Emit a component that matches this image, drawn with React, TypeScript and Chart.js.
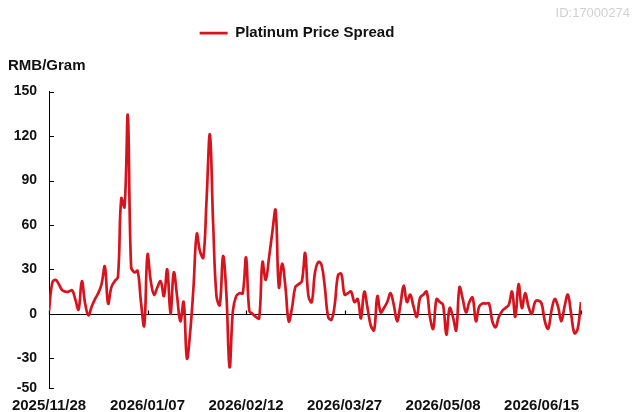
import React, { useEffect, useRef } from "react";
import { Chart, registerables } from "chart.js";

Chart.register(...registerables);

const seriesName = "Platinum Price Spread";
const yAxisTitle = "RMB/Gram";
const chartId = "ID:17000274";

const xTickLabels = ["2025/11/28", "2026/01/07", "2026/02/12", "2026/03/27", "2026/05/08", "2026/06/15"];
const xTickIndex = [0, 30, 60, 90, 120, 150, 162];
const yTickValues = [-50, -30, 0, 30, 60, 90, 120, 150];

const spreadValues = [
  2, 21, 23, 20, 16, 15, 15, 16, 10, 3,
  22, 7, -1, 5, 10, 14, 20, 32, 7, 18,
  22, 25, 78, 72, 134, 32, 28, 29, 8, -8,
  40, 22, 13, 18, 22, 12, 30, 0, 28, 12,
  -5, 8, -30, -12, 18, 54, 42, 38, 78, 121,
  60, 12, 6, 39, 14, -36, 2, 12, 14, 14,
  38, 2, 0, -2, -3, 35, 23, 38, 55, 70,
  18, 34, 18, -5, 4, 18, 20, 22, 41, 12,
  8, 28, 35, 33, 18, -2, -4, 6, 26, 27,
  13, 14, 15, 8, 10, -3, 15, 4, -8, -11,
  12, 1, 4, 8, 14, 6, -5, 6, 19, 8,
  13, 5, -2, 11, 13, 15, -2, -10, 10, 8,
  6, -14, 4, -2, -11, 18, 10, 1, 8, 11,
  -5, 5, 7, 7, 7, -5, -9, -2, 2, 4,
  6, 15, -2, 20, 4, 14, 5, 0, 8, 9,
  7, -5, -10, 2, 10, 5, -5, 5, 13, 0,
  -13, -10, 8,
];

const FONT = "'Liberation Sans', Arial, sans-serif";
const RED = "#d7141e";
const LEGEND_SHIFT = -22;

const axisMarks = {
  id: "axisMarks",
  afterLayout(chart: any) {
    const l = chart.legend;
    if (l) {
      l.left += LEGEND_SHIFT;
      l.right += LEGEND_SHIFT;
    }
  },
  beforeDatasetsDraw(chart: any) {
    const { ctx, chartArea, scales } = chart;
    const x = scales.x;
    const y = scales.y;
    const y0 = Math.round(y.getPixelForValue(0)) + 0.5;
    ctx.save();
    ctx.strokeStyle = "#000";
    ctx.lineWidth = 1.2;
    ctx.beginPath();
    ctx.moveTo(chartArea.left, y0);
    ctx.lineTo(chartArea.right, y0);
    x.ticks.forEach((t: any) => {
      const px = Math.round(x.getPixelForValue(t.value)) + 0.5;
      ctx.moveTo(px, y0);
      ctx.lineTo(px, y0 - 4);
    });
    y.ticks.forEach((t: any) => {
      const py = Math.round(y.getPixelForValue(t.value)) + 0.5;
      ctx.moveTo(chartArea.left, py);
      ctx.lineTo(chartArea.left + 5, py);
    });
    ctx.stroke();
    ctx.restore();
  },
};

export default function App() {
  const ref = useRef<HTMLCanvasElement | null>(null);
  useEffect(() => {
    if (!ref.current) return;
    const chart = new Chart(ref.current, {
      type: "line",
      data: {
        datasets: [
          {
            label: seriesName,
            data: spreadValues.map((v, i) => ({ x: i, y: v })),
            borderColor: RED,
            backgroundColor: RED,
            borderWidth: 2.7,
            pointRadius: 0,
            tension: 0.4,
            fill: false,
          },
        ],
      },
      options: {
        animation: false,
        responsive: true,
        maintainAspectRatio: false,
        layout: { padding: { left: 8, right: 3, top: 0, bottom: 0 } },
        plugins: {
          tooltip: { enabled: false },
          title: {
            display: true,
            text: chartId,
            align: "end",
            color: "#d0d0d0",
            font: { family: FONT, size: 13, weight: "normal", lineHeight: 1.2 },
            padding: { top: 6, bottom: 0 },
            weight: 3000,
          } as any,
          legend: {
            display: true,
            position: "top",
            weight: 2000,
            labels: {
              usePointStyle: true,
              pointStyle: "line",
              pointStyleWidth: 28,
              color: "#111",
              padding: 4,
              font: { family: FONT, size: 15, weight: "bold" },
            },
          } as any,
          subtitle: {
            display: true,
            text: yAxisTitle,
            align: "start",
            color: "#111",
            font: { family: FONT, size: 15, weight: "bold", lineHeight: 1.2 },
            padding: { top: 6, bottom: 17 },
            weight: 1000,
          } as any,
        },
        scales: {
          x: {
            type: "linear",
            min: 0,
            max: spreadValues.length - 1,
            afterBuildTicks: (axis: any) => {
              axis.ticks = xTickIndex.map((v) => ({ value: v }));
            },
            afterFit: (s: any) => {
              s.height = 24;
            },
            ticks: {
              autoSkip: false,
              maxRotation: 0,
              padding: 10,
              color: "#111",
              font: { family: FONT, size: 15, weight: "bold", lineHeight: 1.1 },
              callback: (v: any) => {
                const k = xTickIndex.indexOf(Number(v));
                return k >= 0 && k < xTickLabels.length ? xTickLabels[k] : "";
              },
            },
            grid: { display: false, drawTicks: false },
            border: { display: false },
          },
          y: {
            type: "linear",
            min: -50,
            max: 150,
            afterBuildTicks: (axis: any) => {
              axis.ticks = yTickValues.map((v) => ({ value: v }));
            },
            afterFit: (s: any) => {
              s.width = 41;
            },
            ticks: {
              padding: 12,
              color: "#111",
              font: { family: FONT, size: 14, weight: "bold" },
            },
            grid: { display: false, drawTicks: false },
            border: { display: true, color: "#000", width: 1 },
          },
          y2: {
            type: "linear",
            position: "right",
            min: 0,
            max: 1,
            afterFit: (s: any) => {
              s.width = 49;
            },
            ticks: { display: false },
            grid: { display: false, drawTicks: false },
            border: { display: false },
          },
        },
      } as any,
      plugins: [axisMarks],
    });
    return () => chart.destroy();
  }, []);

  return (
    <div style={{ position: "fixed", left: 0, top: 0, width: 633, height: 412, background: "#fff" }}>
      <canvas ref={ref} />
    </div>
  );
}
